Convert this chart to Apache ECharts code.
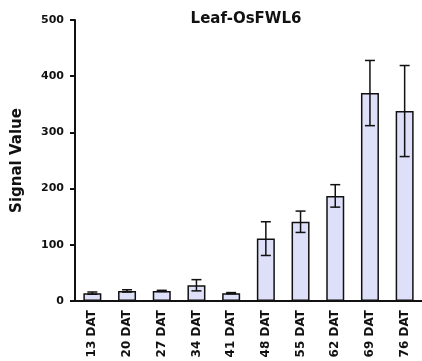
<!DOCTYPE html>
<html>
<head>
<meta charset="utf-8">
<script src="https://cdn.jsdelivr.net/npm/echarts@6/dist/echarts.min.js"></script>
<style>html,body{margin:0;padding:0;background:#fff;}#c{width:422px;height:361px;}</style>
</head>
<body>
<div id="c"></div>
<script>
var categories = ['13 DAT','20 DAT','27 DAT','34 DAT','41 DAT','48 DAT','55 DAT','62 DAT','69 DAT','76 DAT'];
var meanValues = [14, 18, 18, 28, 14, 111, 141, 187, 370, 338];
var errorValues = [2, 2, 1, 10, 1, 30, 19, 20, 58, 81];
var yTicks = [0, 100, 200, 300, 400, 500];

var font = 'DejaVu Sans, Liberation Sans, sans-serif';
var errData = categories.map(function (c, i) {
  return [i, meanValues[i] - errorValues[i], meanValues[i] + errorValues[i]];
});

var chart = echarts.init(document.getElementById('c'), null, {renderer: 'canvas'});
chart.setOption({
  animation: false,
  backgroundColor: '#fff',
  title: {
    text: 'Leaf-OsFWL6',
    left: 241, top: 7, textAlign: 'center',
    textStyle: {fontFamily: font, fontWeight: 'bold', fontSize: 15, color: '#111'}
  },
  grid: {left: 75, top: 20, width: 349, height: 281},
  xAxis: {
    type: 'category',
    data: categories,
    axisLine: {lineStyle: {color: '#111', width: 2}},
    axisTick: {alignWithLabel: true, length: 5, lineStyle: {color: '#111', width: 2}},
    axisLabel: {rotate: 90, fontFamily: font, fontWeight: 'bold', fontSize: 12, color: '#111', margin: 9}
  },
  yAxis: {
    type: 'value', min: yTicks[0], max: yTicks[yTicks.length - 1], interval: 100,
    name: 'Signal Value', nameLocation: 'middle', nameGap: 50,
    nameTextStyle: {fontFamily: font, fontWeight: 'bold', fontSize: 15, color: '#111'},
    axisLine: {show: true, lineStyle: {color: '#111', width: 2}},
    axisTick: {show: true, length: 5, lineStyle: {color: '#111', width: 2}},
    splitLine: {show: false},
    axisLabel: {fontFamily: font, fontWeight: 'bold', fontSize: 11, color: '#111', margin: 11}
  },
  series: [{
    type: 'bar',
    data: meanValues,
    barWidth: 18,
    itemStyle: {color: '#dedff8', borderColor: '#111', borderWidth: 1.5}
  }, {
    type: 'custom',
    data: errData,
    z: 10,
    renderItem: function (params, api) {
      var x = api.value(0);
      var lo = api.coord([x, api.value(1)]);
      var hi = api.coord([x, api.value(2)]);
      var hw = 5;
      var st = {stroke: '#111', lineWidth: 1.5};
      return {type: 'group', children: [
        {type: 'line', shape: {x1: lo[0], y1: lo[1], x2: hi[0], y2: hi[1]}, style: st},
        {type: 'line', shape: {x1: hi[0] - hw, y1: hi[1], x2: hi[0] + hw, y2: hi[1]}, style: st},
        {type: 'line', shape: {x1: lo[0] - hw, y1: lo[1], x2: lo[0] + hw, y2: lo[1]}, style: st}
      ]};
    }
  }]
});
</script>
</body>
</html>
